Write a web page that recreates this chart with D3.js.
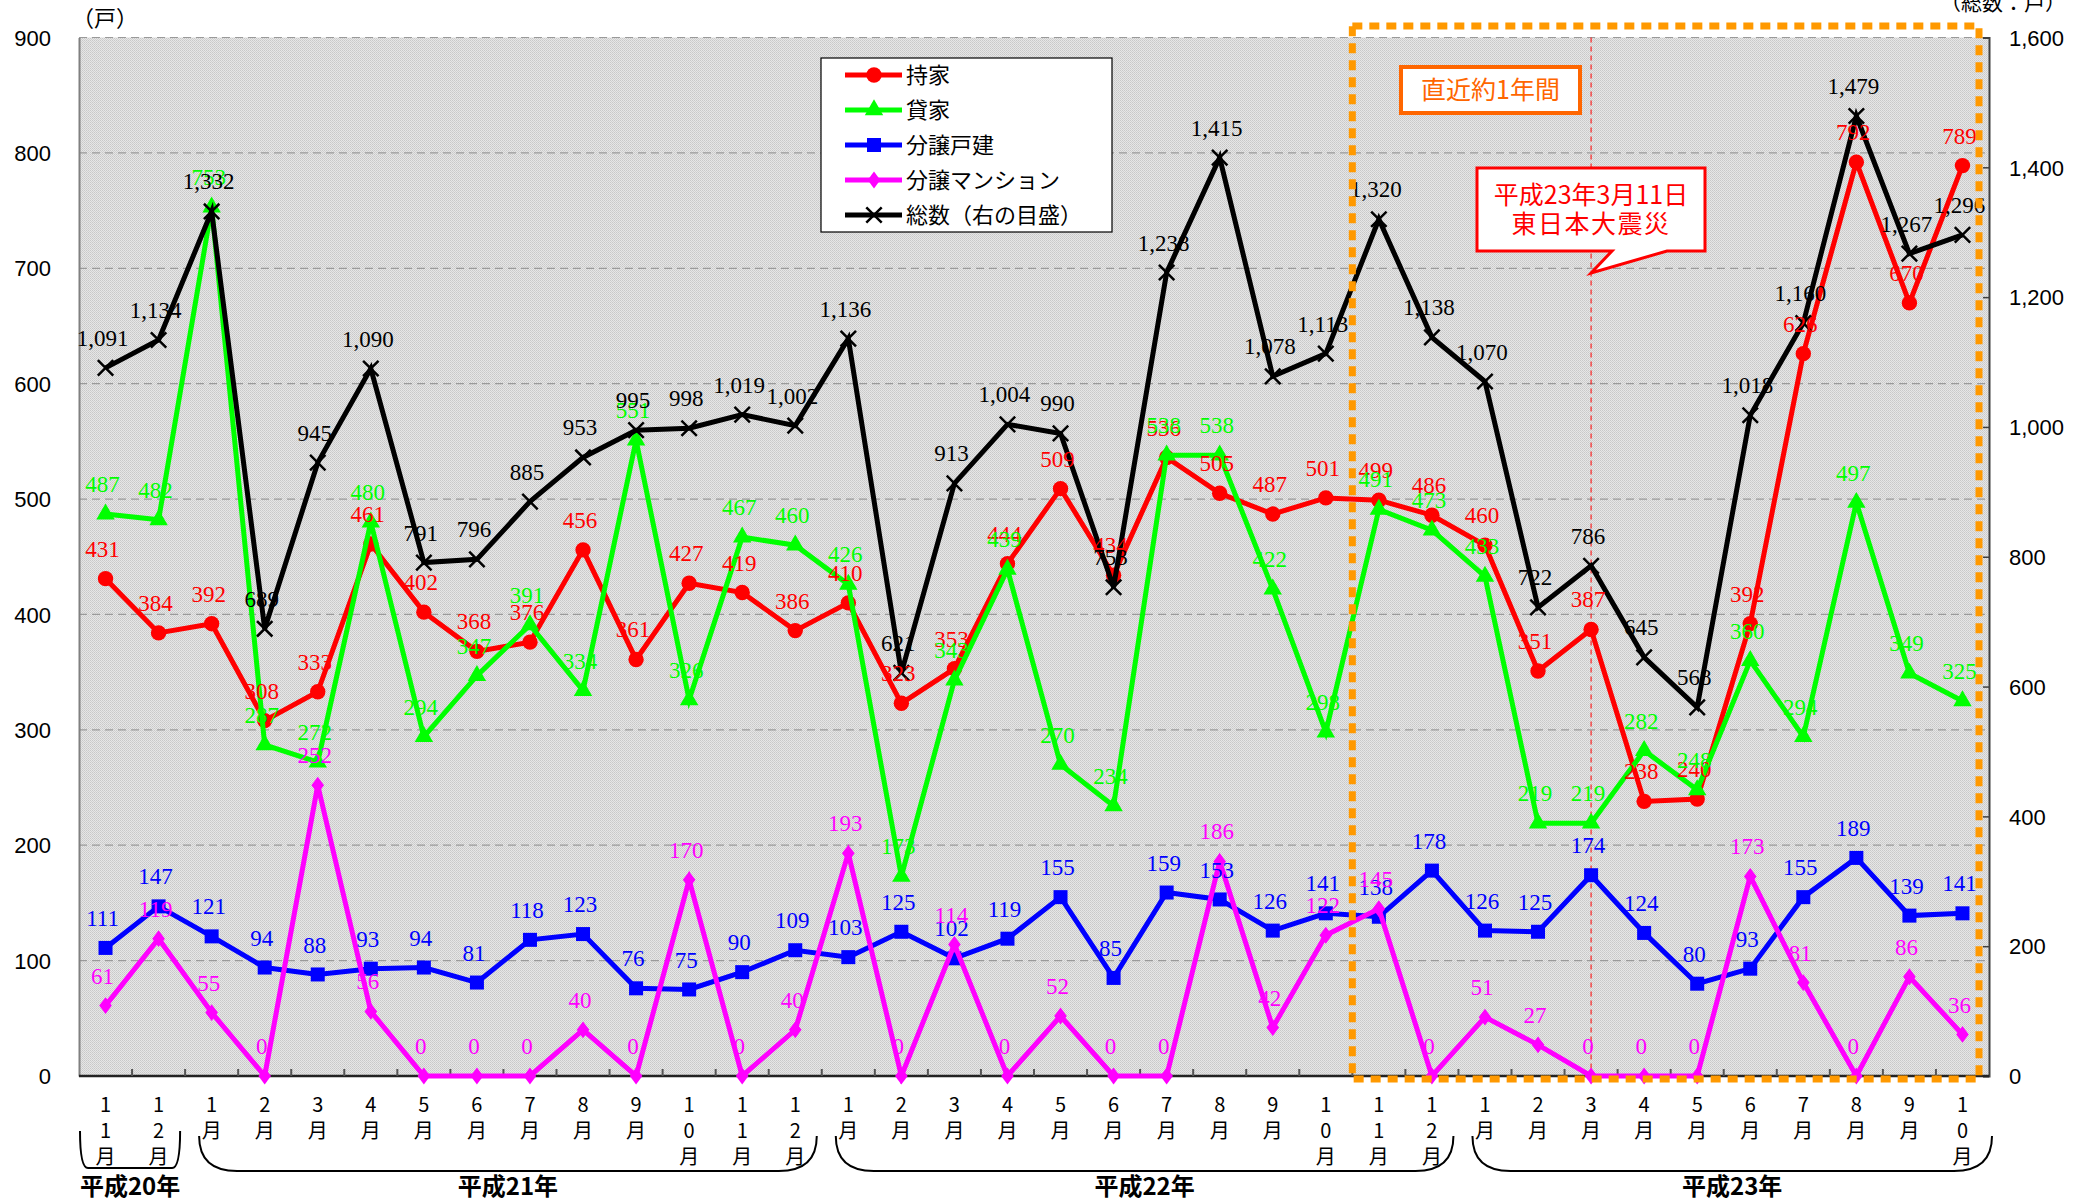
<!DOCTYPE html>
<html>
<head>
<meta charset="utf-8">
<script src="https://cdn.jsdelivr.net/npm/d3@7"></script>
<style>
  html, body { margin: 0; padding: 0; background: #fff; }
  svg { display: block; }
</style>
</head>
<body>
<div id="chart"></div>
<script>
// categories: 平成20年11月 .. 平成23年10月
const months = ["11月","12月","1月","2月","3月","4月","5月","6月","7月","8月","9月","10月","11月","12月",
  "1月","2月","3月","4月","5月","6月","7月","8月","9月","10月","11月","12月",
  "1月","2月","3月","4月","5月","6月","7月","8月","9月","10月"];

const mochiie  = [431,384,392,308,333,461,402,368,376,456,361,427,419,386,410,323,353,444,509,434,536,505,487,501,499,486,460,351,387,238,240,392,626,792,670,789];
const kashiya  = [487,482,753,287,272,480,294,347,391,334,551,326,467,460,426,173,343,439,270,234,538,538,422,298,491,473,433,219,219,282,248,360,294,497,349,325];
const kodate   = [111,147,121,94,88,93,94,81,118,123,76,75,90,109,103,125,102,119,155,85,159,153,126,141,138,178,126,125,174,124,80,93,155,189,139,141];
const mansion  = [61,119,55,0,252,56,0,0,0,40,0,170,0,40,193,0,114,0,52,0,0,186,42,122,145,0,51,27,0,0,0,173,81,0,86,36];
const total    = [1091,1134,1332,689,945,1090,791,796,885,953,995,998,1019,1002,1136,621,913,1004,990,753,1238,1415,1078,1113,1320,1138,1070,722,786,645,568,1018,1160,1479,1267,1296];

const leftTicks  = [0,100,200,300,400,500,600,700,800,900];
const rightTicks = [0,200,400,600,800,1000,1200,1400,1600];

const years = [
  { label: "平成20年", from: 0,  to: 1 },
  { label: "平成21年", from: 2,  to: 13 },
  { label: "平成22年", from: 14, to: 25 },
  { label: "平成23年", from: 26, to: 35 }
];

const series = [
  { name: "持家", values: mochiie, color: "#ff0000", marker: "circle", axis: "left" },
  { name: "貸家", values: kashiya, color: "#00ff00", marker: "triangle", axis: "left" },
  { name: "分譲戸建", values: kodate, color: "#0000ff", marker: "square", axis: "left" },
  { name: "分譲マンション", values: mansion, color: "#ff00ff", marker: "diamond", axis: "left" },
  { name: "総数（右の目盛）", values: total, color: "#000000", marker: "cross", axis: "right" }
];

const W = 2094, H = 1204;
const plot = { left: 79, right: 1989, top: 37.5, bottom: 1076 };

const svg = d3.select("#chart").append("svg")
  .attr("width", W).attr("height", H);

const defs = svg.append("defs");
const pat = defs.append("pattern").attr("id", "dots")
  .attr("width", 2).attr("height", 2).attr("patternUnits", "userSpaceOnUse");
pat.append("rect").attr("width", 2).attr("height", 2).attr("fill", "#e6e6e6");
pat.append("rect").attr("width", 1).attr("height", 1).attr("fill", "#c8c8c8");
pat.append("rect").attr("x", 1).attr("y", 1).attr("width", 1).attr("height", 1).attr("fill", "#d0d0d0");

const x = d3.scaleBand()
  .domain(d3.range(months.length))
  .range([plot.left, plot.right])
  .padding(0);
const cx = i => x(i) + x.bandwidth() / 2;

const yL = d3.scaleLinear().domain([0, 900]).range([plot.bottom, plot.top]);
const yR = d3.scaleLinear().domain([0, 1600]).range([plot.bottom, plot.top]);

const sansJP = "'Noto Sans CJK JP', 'Noto Sans', sans-serif";
const serif = "'Liberation Serif', 'DejaVu Serif', serif";

// plot background
svg.append("rect")
  .attr("x", plot.left).attr("y", plot.top)
  .attr("width", plot.right - plot.left).attr("height", plot.bottom - plot.top)
  .attr("fill", "url(#dots)");

// gridlines
svg.append("g")
  .selectAll("line")
  .data(leftTicks.filter(d => d > 0))
  .join("line")
  .attr("x1", plot.left).attr("x2", plot.right)
  .attr("y1", d => yL(d)).attr("y2", d => yL(d))
  .attr("stroke", "#9a9a9a").attr("stroke-width", 1.2)
  .attr("stroke-dasharray", "8,5");

// left axis
const gL = svg.append("g").attr("transform", `translate(${plot.left},0)`)
  .call(d3.axisLeft(yL).tickValues(leftTicks).tickSize(0).tickPadding(0).tickFormat(d3.format("d")));
gL.select(".domain").attr("stroke", "#808080").attr("stroke-width", 2);
gL.selectAll("text")
  .attr("x", -28).attr("dy", "0.35em")
  .attr("font-family", "'Liberation Sans', Arial, sans-serif")
  .attr("font-size", 22).attr("fill", "#000");

// right axis
const gR = svg.append("g").attr("transform", `translate(${plot.right},0)`)
  .call(d3.axisRight(yR).tickValues(rightTicks).tickSize(-6).tickPadding(0).tickFormat(d3.format(",")));
gR.select(".domain").attr("stroke", "#404040").attr("stroke-width", 2);
gR.selectAll(".tick line").attr("stroke", "#404040").attr("stroke-width", 1.5);
gR.selectAll("text")
  .attr("x", 20).attr("dy", "0.35em")
  .attr("font-family", "'Liberation Sans', Arial, sans-serif")
  .attr("font-size", 22).attr("fill", "#000");

// bottom axis line and ticks at category boundaries
svg.append("line")
  .attr("x1", plot.left).attr("x2", plot.right)
  .attr("y1", plot.bottom).attr("y2", plot.bottom)
  .attr("stroke", "#222").attr("stroke-width", 2.5);
svg.append("g").selectAll("line")
  .data(d3.range(1, months.length))
  .join("line")
  .attr("x1", d => x(d)).attr("x2", d => x(d))
  .attr("y1", plot.bottom).attr("y2", plot.bottom - 7)
  .attr("stroke", "#555").attr("stroke-width", 2);

// category labels, one character per line
const catG = svg.append("g")
  .attr("font-family", sansJP).attr("font-size", 20).attr("fill", "#000");
months.forEach((m, i) => {
  const chars = Array.from(m);
  chars.forEach((c, k) => {
    catG.append("text")
      .attr("x", cx(i)).attr("y", 1105 + k * 26)
      .attr("text-anchor", "middle").attr("dy", "0.35em")
      .text(c);
  });
});

// year braces
const braceG = svg.append("g");
years.forEach((yr, idx) => {
  const x1 = idx === 0 ? plot.left + 1 : x(yr.from) + 14;
  const x2 = idx === years.length - 1 ? plot.right + 3 : x(yr.to) + x.bandwidth() - 5;
  const top = idx === 0 ? 1131 : 1136;
  const bot = idx === 0 ? 1168 : 1171;
  const rx = idx === 0 ? 8 : 38;
  braceG.append("path")
    .attr("d", `M${x1},${top} Q${x1},${bot} ${x1 + rx},${bot} L${x2 - rx},${bot} Q${x2},${bot} ${x2},${top}`)
    .attr("fill", "none").attr("stroke", "#000").attr("stroke-width", 2);
  braceG.append("text")
    .attr("x", (x1 + x2) / 2).attr("y", 1187)
    .attr("text-anchor", "middle").attr("dy", "0.35em")
    .attr("font-family", sansJP).attr("font-size", 24).attr("font-weight", "bold")
    .text(yr.label);
});

// earthquake marker line (平成23年3月)
const quakeIdx = 28;
svg.append("line")
  .attr("x1", cx(quakeIdx)).attr("x2", cx(quakeIdx))
  .attr("y1", plot.top).attr("y2", plot.bottom)
  .attr("stroke", "#ff0000").attr("stroke-width", 1)
  .attr("stroke-dasharray", "5,4");

// markers
function drawMarker(g, type, color, size) {
  const s = size;
  if (type === "circle") {
    g.append("circle").attr("r", s * 0.55).attr("fill", color);
  } else if (type === "triangle") {
    g.append("path").attr("d", d3.symbol(d3.symbolTriangle, s * s * 0.75)).attr("fill", color);
  } else if (type === "square") {
    g.append("rect").attr("x", -s / 2).attr("y", -s / 2).attr("width", s).attr("height", s).attr("fill", color);
  } else if (type === "diamond") {
    g.append("path").attr("d", `M0,${-s * 0.6}L${s * 0.45},0L0,${s * 0.6}L${-s * 0.45},0Z`).attr("fill", color);
  } else if (type === "cross") {
    const h = s * 0.55;
    g.append("path").attr("d", `M${-h},${-h}L${h},${h}M${-h},${h}L${h},${-h}`)
      .attr("stroke", color).attr("stroke-width", 2.5).attr("fill", "none");
  }
}

const linesG = svg.append("g");
series.forEach(s => {
  const ys = s.axis === "left" ? yL : yR;
  const line = d3.line().x((d, i) => cx(i)).y(d => ys(d));
  const g = linesG.append("g");
  g.append("path")
    .datum(s.values)
    .attr("d", line)
    .attr("fill", "none").attr("stroke", s.color)
    .attr("stroke-width", 5).attr("stroke-linejoin", "miter");
  s.values.forEach((v, i) => {
    const mg = g.append("g").attr("transform", `translate(${cx(i)},${ys(v)})`);
    drawMarker(mg, s.marker, s.color, 14);
  });
});

// data labels
const labelG = svg.append("g")
  .attr("font-family", serif).attr("font-size", 23);
const fmt = d3.format(",");
series.forEach(s => {
  const ys = s.axis === "left" ? yL : yR;
  s.values.forEach((v, i) => {
    labelG.append("text")
      .attr("x", cx(i) - 3).attr("y", ys(v) - 30)
      .attr("dy", "0.35em").attr("text-anchor", "middle")
      .attr("fill", s.color)
      .text(fmt(v));
  });
});

// "直近約1年間" dotted frame
svg.append("rect")
  .attr("x", x(24)).attr("y", 26)
  .attr("width", 1979 - x(24)).attr("height", 1079 - 26)
  .attr("fill", "none").attr("stroke", "#ff9900").attr("stroke-width", 7)
  .attr("stroke-dasharray", "10,7");

const recentG = svg.append("g");
recentG.append("rect")
  .attr("x", 1401).attr("y", 67).attr("width", 179).attr("height", 46)
  .attr("fill", "#fff").attr("stroke", "#ff6600").attr("stroke-width", 4);
recentG.append("text")
  .attr("x", 1490.5).attr("y", 90).attr("dy", "0.35em")
  .attr("text-anchor", "middle")
  .attr("font-family", sansJP).attr("font-size", 25).attr("fill", "#ff6600")
  .text("直近約1年間");

// callout for the earthquake
const calloutG = svg.append("g");
const tipX = cx(quakeIdx);
calloutG.append("path")
  .attr("d", `M1477,168H1705V251H1667L${tipX},273L1612,251H1477Z`)
  .attr("fill", "#fff").attr("stroke", "#ff0000").attr("stroke-width", 3);
calloutG.append("text")
  .attr("x", 1591).attr("y", 195).attr("dy", "0.35em")
  .attr("text-anchor", "middle")
  .attr("font-family", sansJP).attr("font-size", 25).attr("fill", "#ff0000")
  .text("平成23年3月11日");
calloutG.append("text")
  .attr("x", 1591).attr("y", 224).attr("dy", "0.35em")
  .attr("text-anchor", "middle").attr("letter-spacing", 1.5)
  .attr("font-family", sansJP).attr("font-size", 25).attr("fill", "#ff0000")
  .text("東日本大震災");

// legend
const legG = svg.append("g");
legG.append("rect")
  .attr("x", 821).attr("y", 58).attr("width", 291).attr("height", 174)
  .attr("fill", "#fff").attr("stroke", "#000").attr("stroke-width", 1.2);
series.forEach((s, i) => {
  const ly = 75 + i * 35;
  legG.append("line")
    .attr("x1", 845).attr("x2", 902).attr("y1", ly).attr("y2", ly)
    .attr("stroke", s.color).attr("stroke-width", 5);
  const mg = legG.append("g").attr("transform", `translate(874,${ly})`);
  drawMarker(mg, s.marker, s.color, 14);
  legG.append("text")
    .attr("x", 906).attr("y", ly).attr("dy", "0.35em")
    .attr("font-family", sansJP).attr("font-size", 22).attr("fill", "#000")
    .text(s.name);
});

// axis unit labels
svg.append("text")
  .attr("x", 72).attr("y", 18).attr("dy", "0.35em")
  .attr("font-family", sansJP).attr("font-size", 22)
  .text("（戸）");
svg.append("text")
  .attr("x", 2066).attr("y", 3).attr("dy", "0.35em")
  .attr("text-anchor", "end")
  .attr("font-family", sansJP).attr("font-size", 21)
  .text("（総数：戸）");
</script>
</body>
</html>
